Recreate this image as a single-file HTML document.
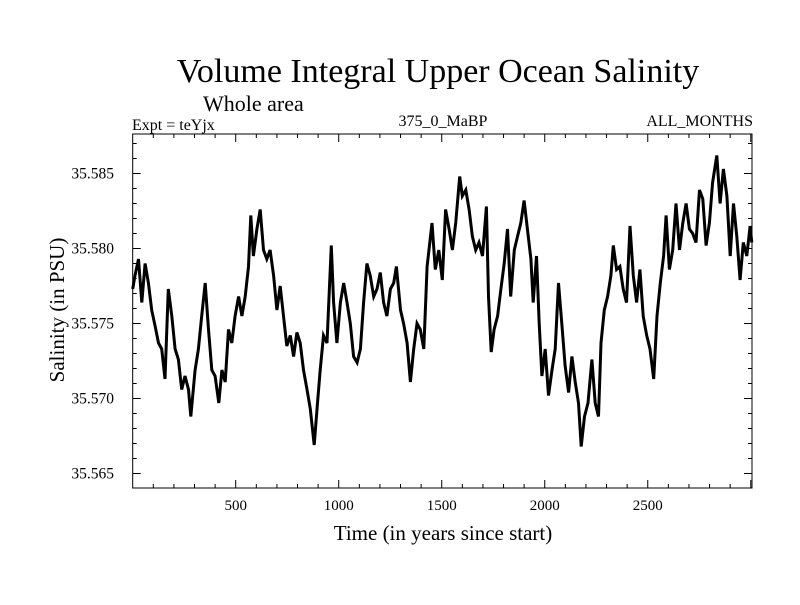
<!DOCTYPE html>
<html><head><meta charset="utf-8"><style>
html,body{margin:0;padding:0;background:#fff;}
svg text{font-family:"Liberation Serif",serif;fill:#000;}
</style></head><body>
<svg id="chart" width="800" height="600" viewBox="0 0 800 600" xmlns="http://www.w3.org/2000/svg">
<rect width="800" height="600" fill="#fff"/>
<text x="438" y="82" font-size="34" text-anchor="middle">Volume Integral Upper Ocean Salinity</text>
<text x="203" y="111" font-size="22">Whole area</text>
<text x="132" y="130" font-size="16">Expt = teYjx</text>
<text x="443" y="126" font-size="16" text-anchor="middle">375_0_MaBP</text>
<text x="753" y="126" font-size="16" text-anchor="end">ALL_MONTHS</text>
<text x="443" y="540" font-size="21" text-anchor="middle">Time (in years since start)</text>
<text x="0" y="0" font-size="21" text-anchor="middle" transform="translate(64,310) rotate(-90)">Salinity (in PSU)</text>
<g id="ticks"></g>
<g id="series"></g>
<rect x="132.7" y="134" width="619.3" height="354" fill="none" stroke="#000" stroke-width="1"/>
</svg>
<script>
const years = [0,11,28,44,60,76,92,109,125,141,157,173,190,206,222,238,254,271,282,303,319,335,352,368,384,400,418,433,449,465,481,497,514,530,546,562,573,586,603,619,635,651,667,684,700,716,732,748,765,781,797,813,829,846,862,881,897,910,926,943,964,975,991,1008,1024,1040,1056,1072,1089,1105,1121,1137,1153,1170,1186,1202,1218,1234,1251,1267,1280,1300,1315,1332,1348,1364,1380,1396,1413,1429,1453,1469,1486,
1503,1519,1536,1552,1568,1587,1600,1617,1633,1649,1665,1681,1698,1717,1727,1740,1754,1771,1787,1803,1819,1835,1852,1868,1884,1900,1916,1933,1944,1960,1973,1986,2002,2018,2035,2051,2067,2083,2099,2116,2132,2148,2164,2177,2193,2210,2229,2245,2261,2273,2289,2305,2321,2333,2349,2365,2381,2397,2414,2430,2446,2462,2478,2495,2511,2529,2545,2561,2577,2589,2605,2621,2637,2654,2670,2686,2702,2718,2734,2751,2767,2783,2799,2815,2835,2851,2867,2884,2900,2916,2932,2948,2964,2981,2997,3005];
const salinity = [35.5773,35.5782,35.5793,35.5764,35.5790,35.5777,35.5759,35.5748,35.5737,35.5733,35.5713,35.5773,35.5755,35.5733,35.5726,35.5706,35.5715,35.5706,35.5688,35.5719,35.5733,35.5755,35.5777,35.5746,35.5719,35.5715,35.5697,35.5719,35.5711,35.5746,35.5737,35.5755,35.5768,35.5755,35.5768,35.5788,35.5822,35.5795,35.5813,35.5826,35.5799,35.5793,35.5799,35.5782,35.5759,35.5775,35.5755,35.5735,35.5742,35.5728,35.5744,35.5737,35.5719,35.5706,35.5693,35.5669,35.5697,35.5719,35.5742,35.5737,35.5802,35.5764,35.5737,35.5764,35.5777,35.5764,35.5750,35.5728,35.5724,35.5733,35.5764,35.5790,35.5782,35.5768,35.5773,35.5784,35.5764,35.5755,35.5773,35.5777,35.5788,35.5759,35.5750,35.5737,35.5711,35.5733,35.5750,35.5746,35.5733,35.5788,35.5817,35.5786,35.5799,
35.5779,35.5826,35.5813,35.5799,35.5817,35.5848,35.5835,35.5839,35.5826,35.5808,35.5799,35.5804,35.5795,35.5828,35.5768,35.5731,35.5746,35.5755,35.5773,35.5790,35.5813,35.5768,35.5799,35.5808,35.5817,35.5832,35.5813,35.5793,35.5764,35.5795,35.5750,35.5715,35.5733,35.5702,35.5719,35.5733,35.5777,35.5750,35.5722,35.5704,35.5728,35.5711,35.5697,35.5668,35.5688,35.5697,35.5726,35.5697,35.5688,35.5737,35.5759,35.5768,35.5782,35.5802,35.5786,35.5788,35.5773,35.5764,35.5815,35.5782,35.5764,35.5786,35.5755,35.5742,35.5733,35.5713,35.5755,35.5777,35.5795,35.5822,35.5786,35.5799,35.5830,35.5799,35.5817,35.5830,35.5813,35.5810,35.5804,35.5839,35.5833,35.5802,35.5817,35.5844,35.5862,35.5830,35.5853,35.5835,35.5795,35.5830,35.5808,35.5779,35.5804,35.5795,35.5815,35.5804];
const xTickValues = [500,1000,1500,2000,2500];
const yTickValues = [35.565,35.570,35.575,35.580,35.585];
const yTickLabels = ["35.565","35.570","35.575","35.580","35.585"];

const NS = "http://www.w3.org/2000/svg";
const X0 = 132.7, X1 = 752, T0 = 134, B0 = 488;
const xMin = 0, xMax = 3006;
function xs(v){ return X0 + (v - xMin) / (xMax - xMin) * (X1 - X0); }
function ys(v){ return 473.5 - (v - 35.565) / 0.005 * 75; }
function mk(tag, attrs, parent){ const e = document.createElementNS(NS, tag); for (const k in attrs) e.setAttribute(k, attrs[k]); parent.appendChild(e); return e; }

const tg = document.getElementById('ticks');
for (let v = 100; v < xMax; v += 100) {
  const x = xs(v), len = (v % 500 === 0) ? 8 : 4;
  const a = mk('line', {x1:x, x2:x, y1:B0, y2:B0-len, stroke:'#000', 'stroke-width':1}, tg);
  
  
  const b = mk('line', {x1:x, x2:x, y1:T0, y2:T0+len, stroke:'#000', 'stroke-width':1}, tg);
  
  
}
xTickValues.forEach(v => {
  const t = mk('text', {x:xs(v), y:510, 'font-size':15, 'text-anchor':'middle'}, tg);
  t.textContent = String(v);
  
  
});
for (let i = 0; i < 26; i++) {
  const v = 35.564 + i * 0.001;
  const y = ys(v);
  if (y < T0 || y > B0) continue;
  const major = Math.abs(((v - 35.565) / 0.005) - Math.round((v - 35.565) / 0.005)) < 1e-6;
  const len = major ? 8 : 4;
  const a = mk('line', {x1:X0, x2:X0+len, y1:y, y2:y, stroke:'#000', 'stroke-width':1}, tg);
  
  
  const b = mk('line', {x1:X1, x2:X1-len, y1:y, y2:y, stroke:'#000', 'stroke-width':1}, tg);
  
  
}
yTickValues.forEach((v, i) => {
  const t = mk('text', {x:114, y:ys(v)+5, 'font-size':15.5, 'text-anchor':'end'}, tg);
  t.textContent = yTickLabels[i];
  
  
});

const sg = document.getElementById('series');
const pts = years.map((yr, i) => xs(yr).toFixed(1) + ',' + ys(salinity[i]).toFixed(1)).join(' ');
const line = mk('polyline', {points:pts, fill:'none', stroke:'#000', 'stroke-width':3, 'stroke-linejoin':'miter'}, sg);


</script>
</body></html>
